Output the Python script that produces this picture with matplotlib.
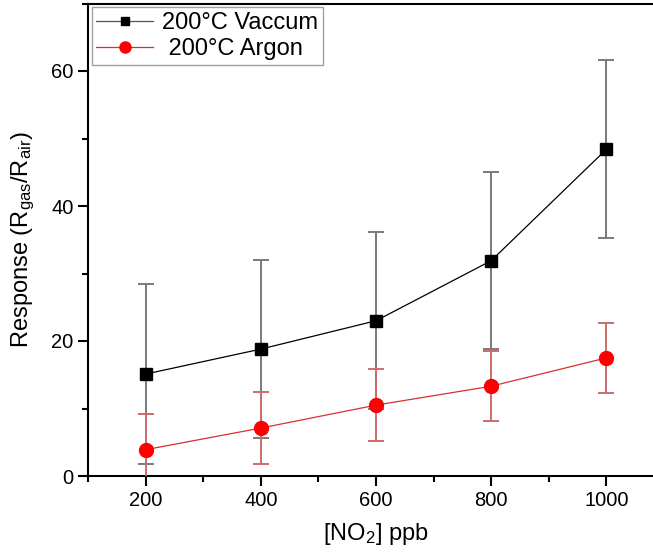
import numpy as np
import matplotlib
matplotlib.use("Agg")
import matplotlib.pyplot as plt
from matplotlib.ticker import MultipleLocator
from matplotlib.lines import Line2D

plt.rcParams['font.family'] = ['Liberation Sans', 'DejaVu Sans']
plt.rcParams['mathtext.default'] = 'regular'

# data
no2_ppb = [200, 400, 600, 800, 1000]
vacuum = [15.1, 18.8, 23.0, 31.9, 48.4]
vacuum_err = [13.3, 13.2, 13.1, 13.1, 13.2]
argon = [3.9, 7.1, 10.5, 13.3, 17.5]
argon_err = [5.3, 5.3, 5.3, 5.2, 5.2]

fig = plt.figure(figsize=(6.53, 5.58), dpi=100)
ax = fig.add_axes([88/653, 82/558, 576/653, 472.5/558])

ax.errorbar(no2_ppb, vacuum, yerr=vacuum_err, color='black', lw=0.9,
            marker='s', ms=8, mfc='black', mec='black',
            ecolor='#7a7a7a', elinewidth=1.4, capsize=6, capthick=1.4, zorder=3)
ax.errorbar(no2_ppb, argon, yerr=argon_err, color='#d83030', lw=0.9,
            marker='o', ms=10, mfc='#ff0000', mec='#ff0000',
            ecolor='#d06a6a', elinewidth=1.4, capsize=6, capthick=1.4, zorder=3)

ax.set_xlim(100, 1100)
ax.set_ylim(0, 70)
ax.xaxis.set_minor_locator(MultipleLocator(100))
ax.yaxis.set_major_locator(MultipleLocator(20))
ax.yaxis.set_minor_locator(MultipleLocator(10))
ax.set_xticks([200, 400, 600, 800, 1000])
ax.tick_params(which='major', direction='out', length=7, width=1.5, labelsize=14.5, colors='black')
ax.tick_params(which='minor', direction='out', length=4, width=1.5)
ax.tick_params(top=False, right=False)
for s in ax.spines.values():
    s.set_linewidth(1.5)

ax.set_xlabel('[NO$_2$] ppb', fontsize=17, labelpad=8)
ax.set_ylabel('Response (R$_{gas}$/R$_{air}$)', fontsize=17, labelpad=10)

handles = [Line2D([], [], color='#555555', lw=0.9, marker='s', ms=6, mfc='black', mec='black'),
           Line2D([], [], color='#d83030', lw=0.9, marker='o', ms=8, mfc='#ff0000', mec='#ff0000')]
leg = ax.legend(handles, ['200°C Vaccum', ' 200°C Argon'], loc='upper left', fontsize=17,
                frameon=True, fancybox=False, edgecolor='#888888', borderaxespad=0.15,
                handlelength=2.4, borderpad=0.2, labelspacing=0.2, handletextpad=0.4)
leg.get_frame().set_linewidth(1.0)

fig.savefig('out.png', dpi=100)
